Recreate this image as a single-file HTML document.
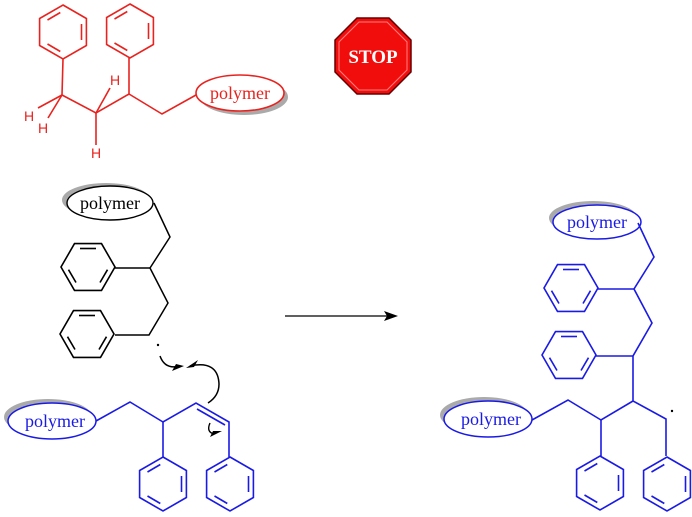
<!DOCTYPE html>
<html><head><meta charset="utf-8"><style>
html,body{margin:0;padding:0;background:#fff;}
svg{display:block;}
text{font-family:"Liberation Serif",serif;}
</style></head><body>
<svg width="692" height="517" viewBox="0 0 692 517" xmlns="http://www.w3.org/2000/svg">
<defs>
<g id="pt" fill="none" stroke-width="1.6">
<polygon points="0,-27 23.4,-13.5 23.4,13.5 0,27 -23.4,13.5 -23.4,-13.5"/>
<line x1="18.5" y1="-8" x2="18.5" y2="8"/>
<line x1="-15.5" y1="-12" x2="-2.7" y2="-19.5"/>
<line x1="-15.5" y1="12" x2="-2.7" y2="19.5"/>
</g>
<g id="fl" fill="none" stroke-width="1.6">
<polygon points="27,0 13.5,23.4 -13.5,23.4 -27,0 -13.5,-23.4 13.5,-23.4"/>
<line x1="-8" y1="-18.5" x2="8" y2="-18.5"/>
<line x1="12" y1="15.5" x2="19.5" y2="2.7"/>
<line x1="-12" y1="15.5" x2="-19.5" y2="2.7"/>
</g>
</defs>

<!-- Top red -->
<g stroke="#e8231f" fill="none" stroke-width="1.6">
<use href="#pt" x="63" y="32"/>
<use href="#pt" x="130" y="31"/>
<polyline points="63,59 62,95 96,113 129,94 162,114 196,95"/>
<line x1="129" y1="94" x2="129" y2="58"/>
<line x1="62" y1="95" x2="38" y2="108"/>
<line x1="62" y1="95" x2="48" y2="118"/>
<line x1="96" y1="113" x2="110" y2="88"/>
<line x1="96" y1="113" x2="96" y2="145"/>
</g>
<g fill="#e8231f" font-size="14" style="font-family:'Liberation Sans',sans-serif">
<text x="24" y="121" style="font-family:'Liberation Sans',sans-serif">H</text>
<text x="38" y="133" style="font-family:'Liberation Sans',sans-serif">H</text>
<text x="110" y="85" style="font-family:'Liberation Sans',sans-serif">H</text>
<text x="91" y="158" style="font-family:'Liberation Sans',sans-serif">H</text>
</g>
<ellipse cx="244" cy="97" rx="44" ry="18" fill="#aaa"/>
<ellipse cx="240" cy="93" rx="44" ry="18" fill="#fff" stroke="#e8231f" stroke-width="1.6"/>
<text x="240" y="99" font-size="18" fill="#e8231f" text-anchor="middle">polymer</text>

<!-- STOP -->
<polygon points="357,18 389,18 411,40 411,72 389,94 357,94 335,72 335,40" fill="#f20d0d" stroke="#600" stroke-width="1.5"/>
<polygon points="359,22 387,22 407,42 407,70 387,90 359,90 339,70 339,42" fill="none" stroke="#ff8080" stroke-width="1"/>
<text x="373" y="63" font-size="19" font-weight="bold" fill="#fff" text-anchor="middle">STOP</text>

<!-- Black fragment -->
<ellipse cx="106" cy="200" rx="44" ry="17" fill="#aaa"/>
<ellipse cx="110" cy="203" rx="43" ry="17" fill="#fff" stroke="#000" stroke-width="1.4"/>
<text x="110" y="209" font-size="18" fill="#000" text-anchor="middle">polymer</text>
<g stroke="#000" fill="none" stroke-width="1.5">
<polyline points="154,203 170,237 150,268 168,303 149,335 115,335"/>
<line x1="150" y1="268" x2="115" y2="268"/>
<use href="#fl" x="88" y="267"/>
<use href="#fl" x="87" y="334"/>
<path d="M160,356 Q165,370 180,366"/>
<path d="M190,366 Q218,360 219,384 Q219,396 208,403"/>
</g>
<circle cx="158" cy="345" r="1.2" fill="#000"/>
<path d="M172,371 L184,366 L176,364 Z" fill="#000"/>
<path d="M186,368 L198,360 L194,367 Z" fill="#000"/>

<!-- Arrow -->
<line x1="285" y1="316" x2="390" y2="316" stroke="#000" stroke-width="1.3"/>
<path d="M398,316 L384,311 L387,316 L384,321 Z" fill="#000"/>

<!-- Blue left fragment -->
<ellipse cx="48" cy="417" rx="44" ry="18" fill="#aaa"/>
<ellipse cx="52" cy="421" rx="44" ry="18" fill="#fff" stroke="#1a1ae6" stroke-width="1.5"/>
<text x="55" y="427" font-size="18" fill="#1a1ae6" text-anchor="middle">polymer</text>
<g stroke="#1a1ae6" fill="none" stroke-width="1.6">
<polyline points="96,421 130,402 163,422 196,403 229,422 229,457"/>
<line x1="163" y1="422" x2="163" y2="457"/>
<line x1="197" y1="409" x2="225" y2="425"/>
<use href="#pt" x="163" y="484"/>
<use href="#pt" x="230" y="484"/>
</g>
<path d="M210,423 Q206,432 214,434" fill="none" stroke="#000" stroke-width="1.4"/>
<path d="M210,437 L222,431 L213,431 Z" fill="#000"/>

<!-- Blue right product -->
<ellipse cx="593" cy="218" rx="44" ry="17" fill="#aaa"/>
<ellipse cx="597" cy="222" rx="44" ry="17" fill="#fff" stroke="#1a1ae6" stroke-width="1.5"/>
<text x="597" y="228" font-size="18" fill="#1a1ae6" text-anchor="middle">polymer</text>
<ellipse cx="484" cy="415" rx="44" ry="18" fill="#aaa"/>
<ellipse cx="488" cy="419" rx="44" ry="18" fill="#fff" stroke="#1a1ae6" stroke-width="1.5"/>
<text x="491" y="425" font-size="18" fill="#1a1ae6" text-anchor="middle">polymer</text>
<g stroke="#1a1ae6" fill="none" stroke-width="1.6">
<polyline points="638,223 654,257 634,289 652,323 633,356 633,401 666,419 666,456"/>
<line x1="634" y1="289" x2="598" y2="289"/>
<line x1="633" y1="356" x2="596" y2="356"/>
<polyline points="633,401 601,420 568,400 532,420"/>
<line x1="601" y1="420" x2="601" y2="456"/>
<use href="#fl" x="571" y="288"/>
<use href="#fl" x="569" y="355"/>
<use href="#pt" x="600" y="483"/>
<use href="#pt" x="667" y="484"/>
</g>
<circle cx="672" cy="411" r="1.2" fill="#000"/>
</svg>
</body></html>
